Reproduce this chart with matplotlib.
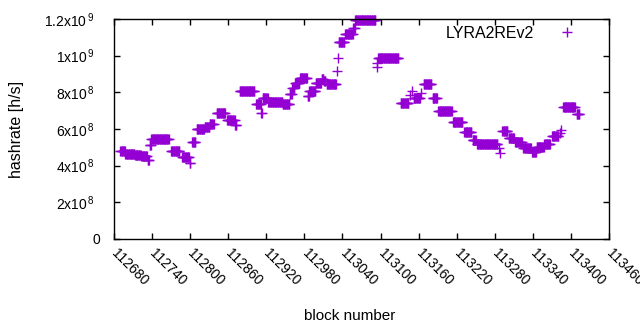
import numpy as np
import matplotlib.pyplot as plt
from matplotlib.transforms import ScaledTranslation

plt.rcParams['font.family'] = ['Liberation Sans', 'DejaVu Sans']
plt.rcParams['mathtext.fontset'] = 'custom'
plt.rcParams['mathtext.rm'] = 'Liberation Sans'
plt.rcParams['mathtext.it'] = 'Liberation Sans'

# runs of blocks with the same estimated hashrate (unit: 1e8 h/s)
seg_start = [112690, 112698, 112713, 112723, 112733, 112736, 112739, 112770,
             112787, 112799, 112803, 112810, 112823, 112831, 112842, 112858,
             112871, 112878, 112904, 112912, 112914, 112923, 112946, 112957,
             112961, 112965, 112973, 112985, 112988, 112998, 113007, 113011,
             113015, 113031, 113033, 113034, 113044, 113057, 113060, 113094,
             113095, 113096, 113132, 113147, 113149, 113152, 113163, 113168,
             113182, 113191, 113214, 113232, 113245, 113252, 113286, 113288,
             113292, 113302, 113312, 113325, 113339, 113346, 113358, 113370,
             113382, 113384, 113388, 113409]
seg_end = [112697, 112712, 112722, 112732, 112735, 112738, 112766, 112783,
           112798, 112800, 112808, 112822, 112830, 112837, 112855, 112870,
           112873, 112901, 112911, 112913, 112922, 112945, 112956, 112960,
           112964, 112972, 112984, 112987, 112997, 113006, 113010, 113013,
           113030, 113031, 113033, 113043, 113056, 113059, 113092, 113094,
           113095, 113128, 113144, 113147, 113149, 113162, 113163, 113180,
           113189, 113212, 113229, 113243, 113250, 113284, 113286, 113288,
           113300, 113310, 113323, 113337, 113345, 113357, 113367, 113380,
           113382, 113384, 113406, 113413]
seg_value = [4.8, 4.62, 4.58, 4.55, 4.3, 5.15, 5.45, 4.8,
             4.45, 4.15, 5.3, 6.0, 6.1, 6.27, 6.86, 6.5,
             6.2, 8.1, 7.36, 6.9, 7.7, 7.5, 7.35, 7.9,
             8.25, 8.5, 8.77, 7.8, 8.1, 8.5, 8.75, 8.6,
             8.44, 9.17, 9.86, 10.73, 11.17, 11.5, 11.95, 9.37,
             9.6, 9.86, 7.4, 7.86, 8.07, 7.67, 7.98, 8.44,
             7.67, 6.98, 6.37, 5.82, 5.4, 5.17, 4.95, 4.68,
             5.9, 5.53, 5.28, 4.95, 4.76, 5.03, 5.17, 5.62,
             5.8, 5.95, 7.18, 6.8]

blocks = []
rates = []
for s, e, v in zip(seg_start, seg_end, seg_value):
    for b in range(s, e + 1):
        blocks.append(b)
        rates.append(v * 1e8)

xticks = list(range(112680, 113461, 60))
yticks = [0, 2e8, 4e8, 6e8, 8e8, 1e9, 1.2e9]
ylabels = ['0', r'2x10$^{\,8}$', r'4x10$^{\,8}$', r'6x10$^{\,8}$',
           r'8x10$^{\,8}$', r'1x10$^{\,9}$', r'1.2x10$^{\,9}$']

fig = plt.figure(figsize=(6.4, 3.3), dpi=100)
ax = fig.add_axes([114 / 640, 91 / 330, 495 / 640, 220 / 330])
ax.plot(blocks, rates, '+', color='#9400d3', markersize=6.5, mew=1.0,
        label='LYRA2REv2', clip_on=False)

ax.set_xlim(112680, 113460)
ax.set_ylim(0, 1.2e9)
ax.set_xticks(xticks)
ax.set_xticklabels([str(t) for t in xticks], rotation=-45, ha='left', va='center',
                   rotation_mode='anchor', fontsize=10)
ax.set_yticks(yticks)
ax.set_yticklabels(ylabels, fontsize=10)
ax.tick_params(direction='in', length=4, width=1, top=True, right=True)
ax.tick_params(axis='y', pad=10)
ax.tick_params(axis='x', pad=9)
for sp in ax.spines.values():
    sp.set_linewidth(1)

# gnuplot leaves the exponent labels a bit further from the axis
shift = ScaledTranslation(-6 / 100, 0, fig.dpi_scale_trans)
for lab in ax.get_yticklabels()[1:]:
    lab.set_transform(lab.get_transform() + shift)

ax.set_xlabel('block number', fontsize=11)
ax.xaxis.set_label_coords(0.477, -0.35)
ax.xaxis.label.set_verticalalignment('center')
ax.set_ylabel('hashrate [h/s]', fontsize=11.5)
ax.yaxis.set_label_coords(-0.197, 0.5)
ax.yaxis.label.set_verticalalignment('center')

ax.legend(loc='upper right', bbox_to_anchor=(0.984, 0.997), markerfirst=False,
          frameon=False, fontsize=11.5, handlelength=3.45, handletextpad=0.34,
          borderaxespad=0, borderpad=0.4)

fig.savefig('out.png', dpi=100)
